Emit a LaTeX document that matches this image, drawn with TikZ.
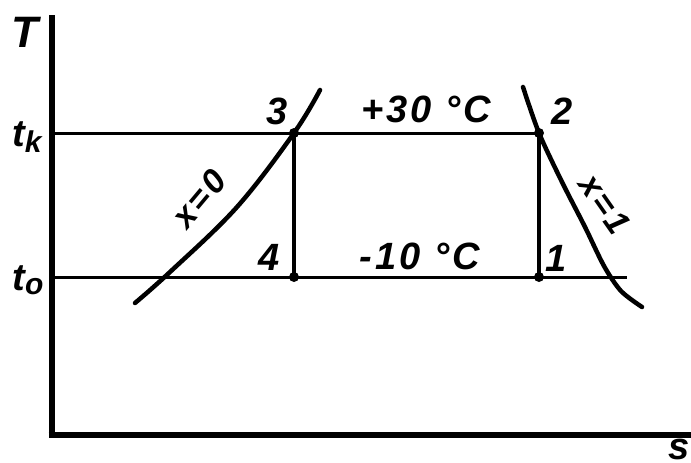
\documentclass[tikz,border=0pt]{standalone}
\usepackage{fontspec}
\newfontfamily\hand[LetterSpace=8]{Liberation Sans Bold Italic}
\begin{document}
\begin{tikzpicture}[x=1pt,y=-1pt,
  lbl/.style={font=\hand\fontsize{38}{40}\selectfont, inner sep=0pt},
  qlbl/.style={font=\hand\fontsize{34}{36}\selectfont, inner sep=0pt},
  axisline/.style={line width=6pt},
  isoline/.style={line width=3pt},
  stroke/.style={line width=4.5pt},
  curve/.style={line width=4.5pt, line cap=round},
  pt/.style={circle, fill=black, inner sep=0pt, minimum size=10pt}]
\useasboundingbox (0,0) rectangle (691,463);
% axes
\coordinate (top) at (51.5,15);
\coordinate (orig) at (51.5,435);
\coordinate (right) at (691,435);
\draw[axisline] (top) -- (51.5,438);
\draw[axisline] (48.5,435) -- (right);
% state points
\node[pt] (p3) at (294,133) {};
\node[pt] (p4) at (294,277) {};
\node[pt] (p2) at (539,133) {};
\node[pt] (p1) at (539,277) {};
\coordinate (tkL) at (51.5,133);
\coordinate (toL) at (51.5,277);
\coordinate (toR) at (627,277);
% isotherms
\draw[isoline] (tkL) -- (p2.center);
\draw[isoline] (toL) -- (toR);
% vertical processes
\draw[stroke] (p3.center) -- (p4.center);
\draw[stroke] (p2.center) -- (p1.center);
% saturation curves
\draw[curve] plot[smooth, tension=0.6] coordinates {(135,303) (170,272) (237,207) (294,133) (320,90)};
\draw[curve] plot[smooth, tension=0.5] coordinates {(523,87) (539,133) (562,182) (585,227) (604,266) (621,291) (642,307)};
% labels
\node[lbl, font=\hand\fontsize{44}{46}\selectfont] (T) at (25,32) {T};
\node[lbl] (tk) at (27,137) {t\raisebox{-6pt}{\fontsize{30}{30}\selectfont k}};
\node[lbl] (to) at (28,280) {t\raisebox{-4pt}{\fontsize{30}{30}\selectfont o}};
\node[lbl] (s) at (679,449) {s};
\node[lbl] (l3) at (277,111) {3};
\node[lbl] (l4) at (269,257) {4};
\node[lbl] (l2) at (562,111) {2};
\node[lbl] (l1) at (556,258) {1};
\node[lbl] (hot) at (426,109) {+30 °C};
\node[lbl] (cold) at (420,256) {-10 °C};
\node[qlbl, rotate=50] (x0) at (199,199) {x=0};
\node[qlbl, rotate=-55] (x1) at (605,204) {x=1};
\end{tikzpicture}
\end{document}
